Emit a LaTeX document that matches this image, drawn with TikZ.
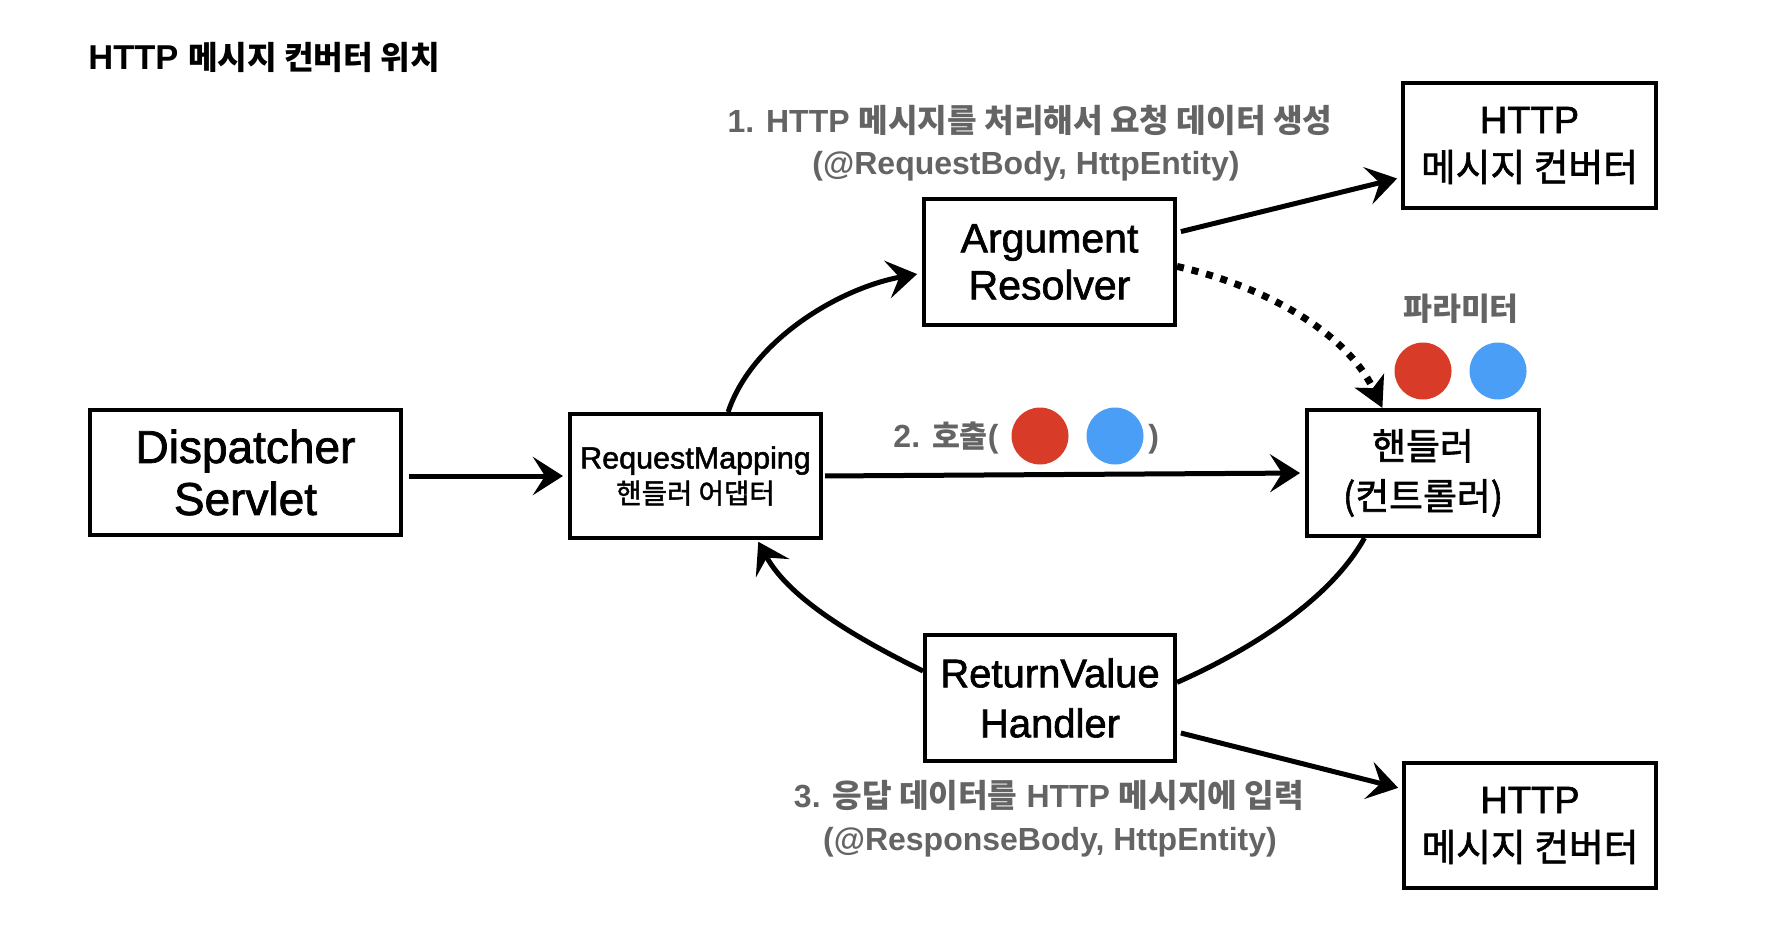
\documentclass[tikz,border=0pt]{standalone}
\usepackage{fontspec}
\setmainfont{Liberation Sans}
\newfontfamily\kr{Noto Sans CJK KR}
\newfontfamily\med[FakeBold=1.6]{Liberation Sans}
\newfontfamily\krm[FakeBold=1.6]{Noto Sans CJK KR}
\usetikzlibrary{arrows.meta}
\definecolor{lblgray}{RGB}{100,100,100}
\definecolor{pred}{RGB}{216,60,40}
\definecolor{pblue}{RGB}{74,158,246}
\newcommand\fsz[2]{\fontsize{#1}{#2}\selectfont}
\begin{document}
\begin{tikzpicture}[x=0.5pt,y=-0.5pt,
  box/.style={draw=black, line width=2pt, rectangle, inner sep=0pt, align=center},
  arr/.style={line width=2.5pt, -{Stealth[length=15pt,width=19pt,inset=6pt]}},
  plain/.style={line width=2.5pt},
  dotarrow/.style={line width=3.5pt, dash pattern=on 3.5pt off 4pt, -{Stealth[length=15pt,width=16pt,inset=4pt]}},
  lbl/.style={text=lblgray, font=\bfseries\fsz{16pt}{21pt}, inner sep=0pt},
  dot/.style={circle, inner sep=0pt, minimum size=28.5pt}]
\useasboundingbox (0,0) rectangle (1775,930);

% title
\node[anchor=base west, inner sep=0pt, font=\bfseries\fsz{17.25pt}{20pt}] (title) at (88,70)
  {HTTP {\kr\fsz{16.1pt}{20pt}메시지 컨버터 위치}};

% boxes
\node[box, minimum width=155.5pt, minimum height=62.5pt, font=\med\fsz{23pt}{26pt}] (disp) at (245.5,472.5) {\raisebox{-2pt}{Dispatcher}\\\raisebox{-2pt}{Servlet}};
\node[box, minimum width=125.5pt, minimum height=62pt, font=\med\fsz{15.25pt}{17.5pt}] (rm) at (695.5,476) {RequestMapping\\{\krm\fsz{13.8pt}{17.5pt}핸들러 어댑터}};
\node[box, minimum width=125.5pt, minimum height=63pt, font=\med\fsz{20.5pt}{23.5pt}] (arg) at (1049.5,262) {\raisebox{-2pt}{Argument}\\\raisebox{-2pt}{Resolver}};
\node[box, minimum width=125pt, minimum height=63pt, font=\med\fsz{20pt}{25pt}] (rv) at (1050,698) {\raisebox{-2pt}{ReturnValue}\\\raisebox{-2pt}{Handler}};
\node[box, minimum width=116pt, minimum height=63pt, font=\krm\fsz{18.4pt}{25pt}] (h) at (1423,473) {핸들러\\(컨트롤러)};
\node[box, minimum width=126.5pt, minimum height=62.5pt, font=\med\fsz{19pt}{24pt}] (http1) at (1529.5,145.5) {HTTP\\{\krm\fsz{18.9pt}{24pt}메시지 컨버터}};
\node[box, minimum width=126pt, minimum height=62.5pt, font=\med\fsz{19pt}{24pt}] (http2) at (1530,825.5) {HTTP\\{\krm\fsz{18.9pt}{24pt}메시지 컨버터}};

% labels
\node[lbl, anchor=base] (lab1a) at (1030,133) {1. HTTP {\kr\fsz{16.1pt}{21pt}메시지를 처리해서 요청 데이터 생성}};
\node[lbl, anchor=base] (lab1b) at (1026,175) {(@RequestBody, HttpEntity)};
\node[lbl, anchor=base] (lab3a) at (1049,807) {3. {\kr\fsz{16.1pt}{21pt}응답 데이터를} HTTP {\kr\fsz{16.1pt}{21pt}메시지에 입력}};
\node[lbl, anchor=base] (lab3b) at (1050,850) {(@ResponseBody, HttpEntity)};
\node[lbl, anchor=base, font=\kr\bfseries\fsz{15.7pt}{18pt}] (param) at (1461,321) {파라미터};
\node[lbl, anchor=base east] (call) at (999,447) {2. {\kr\fsz{15.2pt}{20pt}호출}(};
\node[lbl, anchor=base west] (callend) at (1148,447) {)};

% parameter dots
\node[dot, fill=pred] (cr) at (1040,436) {};
\node[dot, fill=pblue] (cb) at (1115,436) {};
\node[dot, fill=pred] (pr) at (1423,371) {};
\node[dot, fill=pblue] (pb) at (1498,371) {};

% connectors
\draw[arr, shorten <=3pt, shorten >=2.5pt] (disp.east |- rm.west) -- (rm.west);
\draw[arr, shorten <=1pt, shorten >=2.5pt] (rm.east) -- (h.west);
\draw[arr, shorten >=2.5pt] (rm.63) .. controls (752,340) and (840,288) .. (arg.185);
\draw[arr, shorten <=2pt, shorten >=2pt] (arg.13) -- (http1.194);
\draw[dotarrow] (arg.358) .. controls (1260,285) and (1345,330) .. (h.122);
\draw[arr, shorten >=1pt] (rv.168) .. controls (860,640) and (790,600) .. (rm.314);
\draw[plain] (h.228) .. controls (1330,600) and (1250,650) .. (rv.7);
\draw[arr, shorten <=2pt, shorten >=2pt] (rv.345) -- (http2.164);
\end{tikzpicture}
\end{document}
